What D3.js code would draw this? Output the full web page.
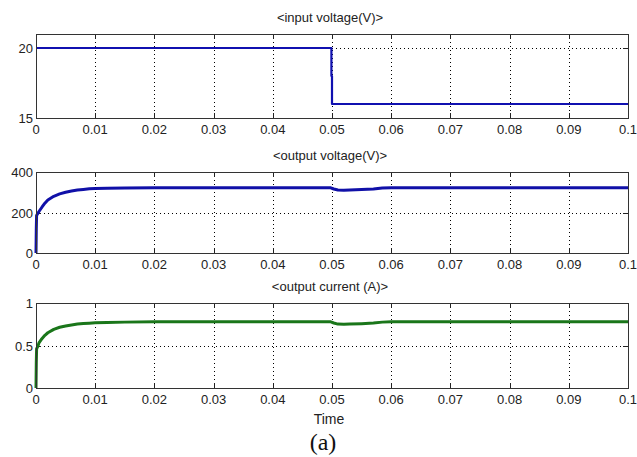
<!DOCTYPE html>
<html>
<head>
<meta charset="utf-8">
<script src="https://cdn.jsdelivr.net/npm/d3@7"></script>
<style>
  body { margin: 0; background: #fff; }
  svg { display: block; }
  .tick-label { font-family: "Liberation Sans", Arial, sans-serif; font-size: 13px; fill: #222; }
  .title { font-family: "Liberation Sans", Arial, sans-serif; font-size: 13px; fill: #222; }
</style>
</head>
<body>
<svg id="chart" width="637" height="457"></svg>
<script>
// time axis ticks shared by all three panels
const xTicks = [0, 0.01, 0.02, 0.03, 0.04, 0.05, 0.06, 0.07, 0.08, 0.09, 0.1];

// input voltage: a step from 20 V down to 16 V at t = 0.05
const vinTime = [0, 0.0499, 0.0499, 0.05, 0.05, 0.1];
const vinValue = [20, 20, 18, 18, 16, 16];

// output voltage trace (V)
const voutTime = [0, 0.00005, 0.0001, 0.0003, 0.0005, 0.001, 0.0015, 0.002, 0.003, 0.004, 0.005, 0.006,
    0.007, 0.008, 0.009, 0.01, 0.012, 0.015, 0.02, 0.03, 0.04, 0.0498, 0.0503, 0.051, 0.052, 0.053,
    0.055, 0.057, 0.0585, 0.06, 0.07, 0.08, 0.09, 0.1];
const voutValue = [0, 120, 185, 195, 205, 226, 246, 262, 280, 292, 300, 306,
    311, 314, 317, 319, 320, 321, 322, 322, 322, 322, 316, 311, 310, 311,
    313, 316, 321, 322, 322, 322, 322, 322];

// output current trace (A)
const ioutTime = [0, 0.00005, 0.0001, 0.0003, 0.0005, 0.001, 0.0015, 0.002, 0.003, 0.004, 0.005, 0.006,
    0.007, 0.008, 0.009, 0.01, 0.012, 0.015, 0.02, 0.03, 0.04, 0.0498, 0.0503, 0.051, 0.052, 0.053,
    0.055, 0.057, 0.0585, 0.06, 0.07, 0.08, 0.09, 0.1];
const ioutValue = [0, 0.3, 0.46, 0.49, 0.53, 0.58, 0.62, 0.65, 0.69, 0.715, 0.73, 0.742,
    0.752, 0.758, 0.763, 0.768, 0.772, 0.775, 0.778, 0.778, 0.778, 0.778, 0.765, 0.752, 0.75, 0.752,
    0.757, 0.765, 0.775, 0.778, 0.778, 0.778, 0.778, 0.778];

const panels = [
    { title: "<input voltage(V)>", top: 34, bottom: 118, domain: [15, 21], ticks: [15, 20],
      grid: [20], t: vinTime, v: vinValue, colour: "#1010b0", width: 2.2 },
    { title: "<output voltage(V)>", top: 172, bottom: 253, domain: [0, 400], ticks: [0, 200, 400],
      grid: [200, 400], t: voutTime, v: voutValue, colour: "#1010a8", width: 3 },
    { title: "<output current (A)>", top: 303, bottom: 388, domain: [0, 1], ticks: [0, 0.5, 1],
      grid: [0.5], t: ioutTime, v: ioutValue, colour: "#1a761a", width: 3 }
];

const svg = d3.select("#chart");
const left = 36, right = 628;

const x = d3.scaleLinear().domain([0, 0.1]).range([left, right]);

panels.forEach(function (p) {
    const y = d3.scaleLinear().domain(p.domain).range([p.bottom, p.top]);
    const g = svg.append("g");

    // dotted grid
    g.selectAll(".vgrid")
        .data(xTicks.slice(1, -1))
      .enter()
      .append("line")
        .attr("x1", function (d) { return Math.round(x(d)) + 0.5; })
        .attr("x2", function (d) { return Math.round(x(d)) + 0.5; })
        .attr("y1", p.top)
        .attr("y2", p.bottom)
        .attr("style", "stroke: #000; stroke-width: 1; stroke-dasharray: 1,3;");

    g.selectAll(".hgrid")
        .data(p.grid)
      .enter()
      .append("line")
        .attr("x1", left)
        .attr("x2", right)
        .attr("y1", function (d) { return Math.round(y(d)) + 0.5; })
        .attr("y2", function (d) { return Math.round(y(d)) + 0.5; })
        .attr("style", "stroke: #000; stroke-width: 1; stroke-dasharray: 1,3;");

    // inward ticks on all four sides
    const tickLen = 5;
    xTicks.forEach(function (d) {
        const xx = Math.round(x(d)) + 0.5;
        g.append("line").attr("x1", xx).attr("x2", xx)
            .attr("y1", p.bottom).attr("y2", p.bottom - tickLen)
            .attr("style", "stroke: #222; stroke-width: 1;");
        g.append("line").attr("x1", xx).attr("x2", xx)
            .attr("y1", p.top).attr("y2", p.top + tickLen)
            .attr("style", "stroke: #222; stroke-width: 1;");
    });
    p.ticks.forEach(function (d) {
        const yy = Math.round(y(d)) + 0.5;
        g.append("line").attr("x1", left).attr("x2", left + tickLen)
            .attr("y1", yy).attr("y2", yy)
            .attr("style", "stroke: #222; stroke-width: 1;");
        g.append("line").attr("x1", right).attr("x2", right - tickLen)
            .attr("y1", yy).attr("y2", yy)
            .attr("style", "stroke: #222; stroke-width: 1;");
    });

    // the trace
    const line = d3.line()
        .x(function (d) { return x(d[0]); })
        .y(function (d) { return y(d[1]); });

    g.append("path")
        .datum(d3.zip(p.t, p.v))
        .attr("d", line)
        .attr("style", "fill: none; stroke: " + p.colour + "; stroke-width: " + p.width + "px; stroke-linejoin: round;");

    // box
    g.append("rect")
        .attr("x", left + 0.5)
        .attr("y", p.top + 0.5)
        .attr("width", right - left)
        .attr("height", p.bottom - p.top)
        .attr("style", "fill: none; stroke: #333; stroke-width: 1;");

    // labels
    g.selectAll(".xl")
        .data(xTicks)
      .enter()
      .append("text")
        .attr("class", "tick-label")
        .attr("x", function (d) { return x(d); })
        .attr("y", p.bottom + 16)
        .attr("text-anchor", "middle")
        .text(function (d) { return d3.format("")(+d.toFixed(2)); });

    g.selectAll(".yl")
        .data(p.ticks)
      .enter()
      .append("text")
        .attr("class", "tick-label")
        .attr("x", left - 3)
        .attr("y", function (d) { return y(d) + 5; })
        .attr("text-anchor", "end")
        .text(function (d) { return d; });

    g.append("text")
        .attr("class", "title")
        .attr("x", 330)
        .attr("y", p.top - 12)
        .attr("text-anchor", "middle")
        .text(p.title);
});

svg.append("text")
    .attr("class", "title")
    .attr("x", 329)
    .attr("y", 424)
    .attr("text-anchor", "middle")
    .attr("style", "font-size: 14px;")
    .text("Time");

svg.append("text")
    .attr("x", 323)
    .attr("y", 450)
    .attr("text-anchor", "middle")
    .attr("style", "font-family: 'Liberation Serif', 'Times New Roman', serif; font-size: 24px; fill: #111;")
    .text("(a)");
</script>
</body>
</html>
